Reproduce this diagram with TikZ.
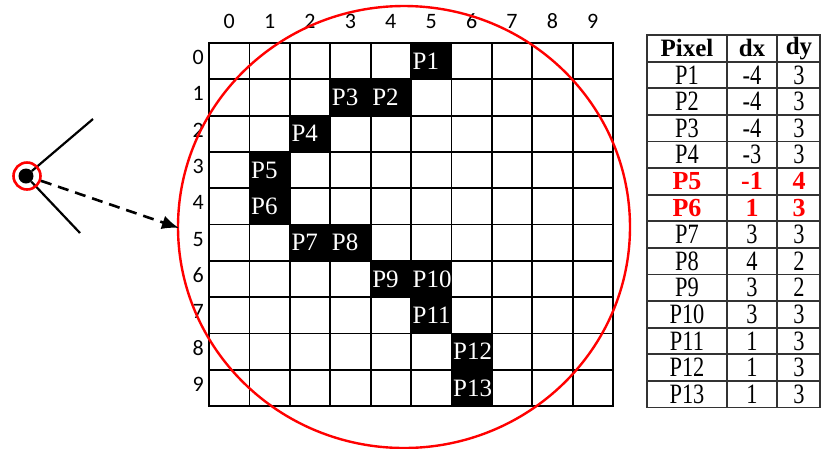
\documentclass[tikz,border=0pt]{standalone}
\usepackage{fontspec}
\setmainfont{Liberation Serif}
\newfontfamily\calibri{Carlito}
\usetikzlibrary{arrows.meta}

\begin{document}
\begin{tikzpicture}[x=1pt,y=-1pt,
  idx/.style={font=\calibri\fontsize{22pt}{22pt}\selectfont},
  pix/.style={anchor=west,text=white,inner sep=1.5pt,font=\fontsize{25pt}{25pt}\selectfont},
  cell/.style={xscale=0.8,font=\fontsize{28pt}{28pt}\selectfont},
  redcell/.style={text=red,font=\bfseries\fontsize{26pt}{26pt}\selectfont},
  head/.style={font=\bfseries\fontsize{25pt}{25pt}\selectfont},
  tab/.style={line width=1.8pt,black!80,line cap=rect}]
  \useasboundingbox (0,0) rectangle (821,448);
  \begin{scope}[shift={(209,43)},x=40.4pt,y=-36.3pt]
    \foreach \r/\c/\t in {0/5/P1,1/4/P2,1/3/P3,2/2/P4,3/1/P5,4/1/P6,5/2/P7,5/3/P8,
        6/4/P9,6/5/P10,7/5/P11,8/6/P12,9/6/P13} {
      \fill (\c,\r) rectangle +(1,1);
      \node[pix] (\t) at (\c,{\r+0.5}) {\t};
    }
    \foreach \i in {0,...,10}
      \draw[line width=1.8pt,line cap=rect] (\i,0) -- (\i,10) (0,\i) -- (10,\i);
    \foreach \i in {0,...,9} {
      \node[idx] (col\i) at ({\i+0.5},-0.6) {\i};
      \node[idx] (row\i) at (-0.27,{\i+0.4}) {\i};
    }
  \end{scope}
  \draw[red,line width=2.4pt] (404,227) ellipse [x radius=226,y radius=221];
  \foreach \k in {0,...,14}
    \draw[tab] (647,{35+26.6*\k}) -- (820,{35+26.6*\k});
  \foreach \x in {647,727,777,820}
    \draw[tab] (\x,35) -- (\x,407.4);
  \node[head] (hpix) at (687,48.3) {Pixel};
  \node[head] (hdx) at (752,48.3) {dx};
  \node[head] (hdy) at (799,48.3) {dy};
  \foreach \p/\a/\b/\s [count=\i] in {P1/-4/3/cell,P2/-4/3/cell,P3/-4/3/cell,P4/-3/3/cell,
      P5/-1/4/redcell,P6/1/3/redcell,P7/3/3/cell,P8/4/2/cell,P9/3/2/cell,P10/3/3/cell,
      P11/1/3/cell,P12/1/3/cell,P13/1/3/cell} {
    \node[\s] (tab\p) at (687,{35+26.6*(\i+0.5)}) {\p};
    \node[\s] (dx\p) at (752,{35+26.6*(\i+0.5)}) {\a};
    \node[\s] (dy\p) at (799,{35+26.6*(\i+0.5)}) {\b};
  }
  \node[circle,fill,minimum size=15pt,inner sep=0pt] (eye) at (26,176) {};
  \coordinate (armU) at (93,119);
  \coordinate (armL) at (80,233);
  \coordinate (tip) at (179,228);
  \draw[line width=2.2pt] (eye) -- (armU) (eye) -- (armL);
  \node[circle,draw=red,line width=2.6pt,minimum size=27pt,inner sep=0pt] (ring) at (27,176) {};
  \draw[line width=2.6pt,dash pattern=on 11pt off 7pt,-{Latex[length=17pt,width=14pt]}] (ring) -- (tip);
\end{tikzpicture}
\end{document}
